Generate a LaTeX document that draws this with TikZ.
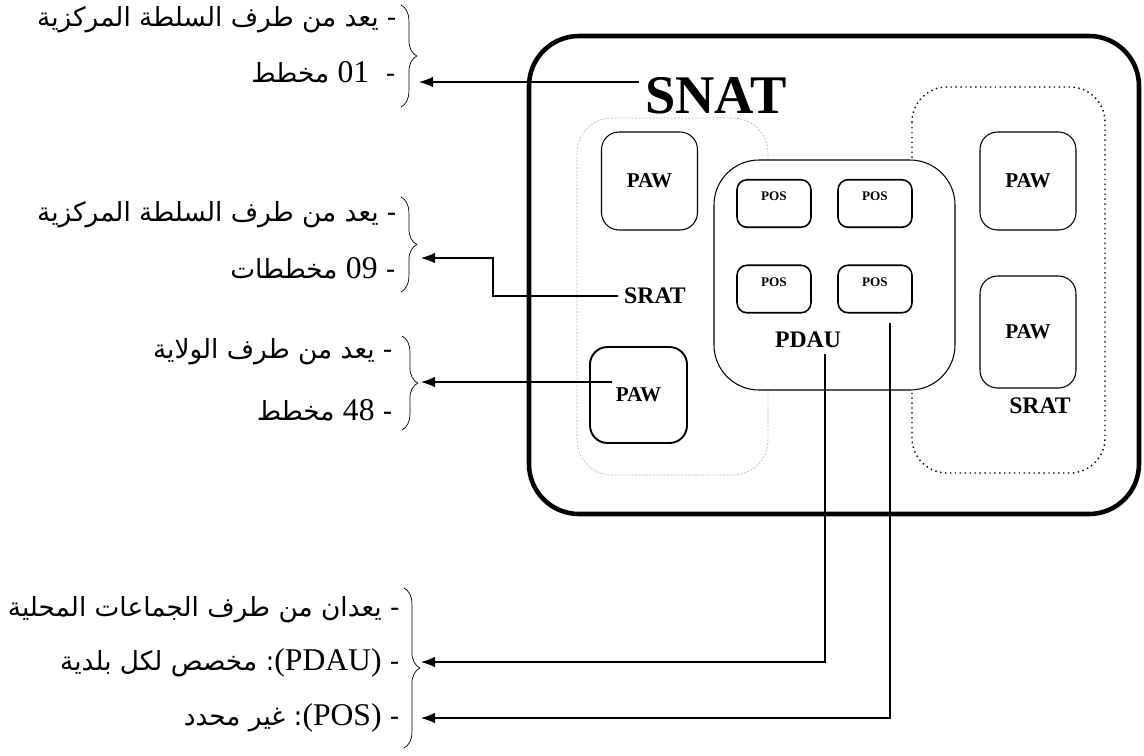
\documentclass[tikz,border=0pt]{standalone}
\usepackage{fontspec}
\setmainfont{Liberation Serif}
\newfontfamily\arabicfont[Script=Arabic]{DejaVu Sans}
\usetikzlibrary{arrows.meta,decorations.pathreplacing,positioning}
\TeXXeTstate=1
\newcommand\lat[1]{\beginL{\rmfamily\fontsize{18}{20}\selectfont #1}\endL{}}

\begin{document}
\begin{tikzpicture}[x=0.02cm, y=-0.02cm, >={Latex[length=8pt,width=6pt]}, semithick,
    pawbox/.style={draw, rounded corners=0.35cm, minimum width=1.92cm, minimum height=1.96cm, font=\bfseries\fontsize{12}{14}\selectfont},
    posbox/.style={draw, line width=0.9pt, rounded corners=0.2cm, minimum width=1.48cm, minimum height=0.95cm, text height=5pt, text depth=8pt, font=\bfseries\fontsize{7.5}{9}\selectfont},
    lbl/.style={font=\bfseries\fontsize{13.5}{16}\selectfont},
    arline/.style={anchor=east, inner sep=0pt, font=\arabicfont\fontsize{15}{18}\selectfont},
    curly/.style={decorate, decoration={brace, amplitude=9pt}, thin}]
    \useasboundingbox (0,0) rectangle (1144,755);

    % containers
    \draw[line width=2.6pt, rounded corners=1cm] (529,36) rectangle (1139,514);
    \draw[gray!60, line width=0.4pt, dash pattern=on 1pt off 1pt, rounded corners=0.7cm] (577,118) rectangle (768,475);
    \draw[line width=0.8pt, dotted, rounded corners=0.7cm] (912,87) rectangle (1105,473);
    \draw[fill=white, line width=0.6pt, rounded corners=0.9cm] (714,160) rectangle (955,390);

    % inner boxes
    \node[pawbox]                       (pawtl) at (649.5,181) {PAW};
    \node[pawbox, line width=1.1pt, minimum width=1.94cm, minimum height=1.92cm] (pawbl) at (638.5,395) {PAW};
    \node[pawbox]                       (pawtr) at (1028,181)  {PAW};
    \node[pawbox, minimum height=2.24cm] (pawbr) at (1028,332)  {PAW};
    \node[posbox] (pos1) at (774,203.5) {POS};
    \node[posbox] (pos2) at (875,203.5) {POS};
    \node[posbox] (pos3) at (774,289)   {POS};
    \node[posbox] (pos4) at (875,289)   {POS};

    % labels
    \node[font=\bfseries\fontsize{31}{35}\selectfont] (snat) at (716,96) {SNAT};
    \node[lbl] (sratl) at (655,296) {SRAT};
    \node[lbl] (sratr) at (1040,406) {SRAT};
    \node[lbl] (pdau)  at (808,340) {PDAU};

    % notes
    \node[arline] (n1a) at (397,20)  {\beginR - يعد من طرف السلطة المركزية\endR};
    \node[arline] (n1b) at (396,72)  {\beginR -~~\lat{01} مخطط\endR};
    \node[arline] (n2a) at (397,215) {\beginR - يعد من طرف السلطة المركزية\endR};
    \node[arline] (n2b) at (396,268) {\beginR - \lat{09} مخططات\endR};
    \node[arline] (n3a) at (393,352) {\beginR - يعد من طرف الولاية\endR};
    \node[arline] (n3b) at (393,410) {\beginR - \lat{48} مخطط\endR};
    \node[arline] (n4a) at (400,610) {\beginR - يعدان من طرف الجماعات المحلية\endR};
    \node[arline] (n4b) at (400,663) {\beginR - \lat{(PDAU)}: مخصص لكل بلدية\endR};
    \node[arline] (n4c) at (400,718) {\beginR - \lat{(POS)}: غير محدد\endR};

    % braces
    \draw[curly] (401,5) -- (401,107);
    \draw[curly] (401,197) -- (401,292);
    \draw[curly] (402,336) -- (402,430);
    \draw[curly] (404,588) -- (404,748);

    % connectors
    \coordinate (t1) at (419,82);
    \coordinate (t2) at (421,258);
    \coordinate (t3) at (421,382);
    \coordinate (t4) at (421,662);
    \coordinate (t5) at (421,718);
    \coordinate (k2) at (493,258);
    \draw[->] (snat.west |- t1) -- (t1);
    \draw[->] (sratl.west) -| (k2) -- (t2);
    \draw[->] ([shift={(23,-13)}]pawbl.west) -- (t3);
    \draw[->] ([shift={(17,0)}]pdau.south) |- (t4);
    \draw[->] ([shift={(15,9)}]pos4.south) |- (t5);
\end{tikzpicture}
\end{document}
